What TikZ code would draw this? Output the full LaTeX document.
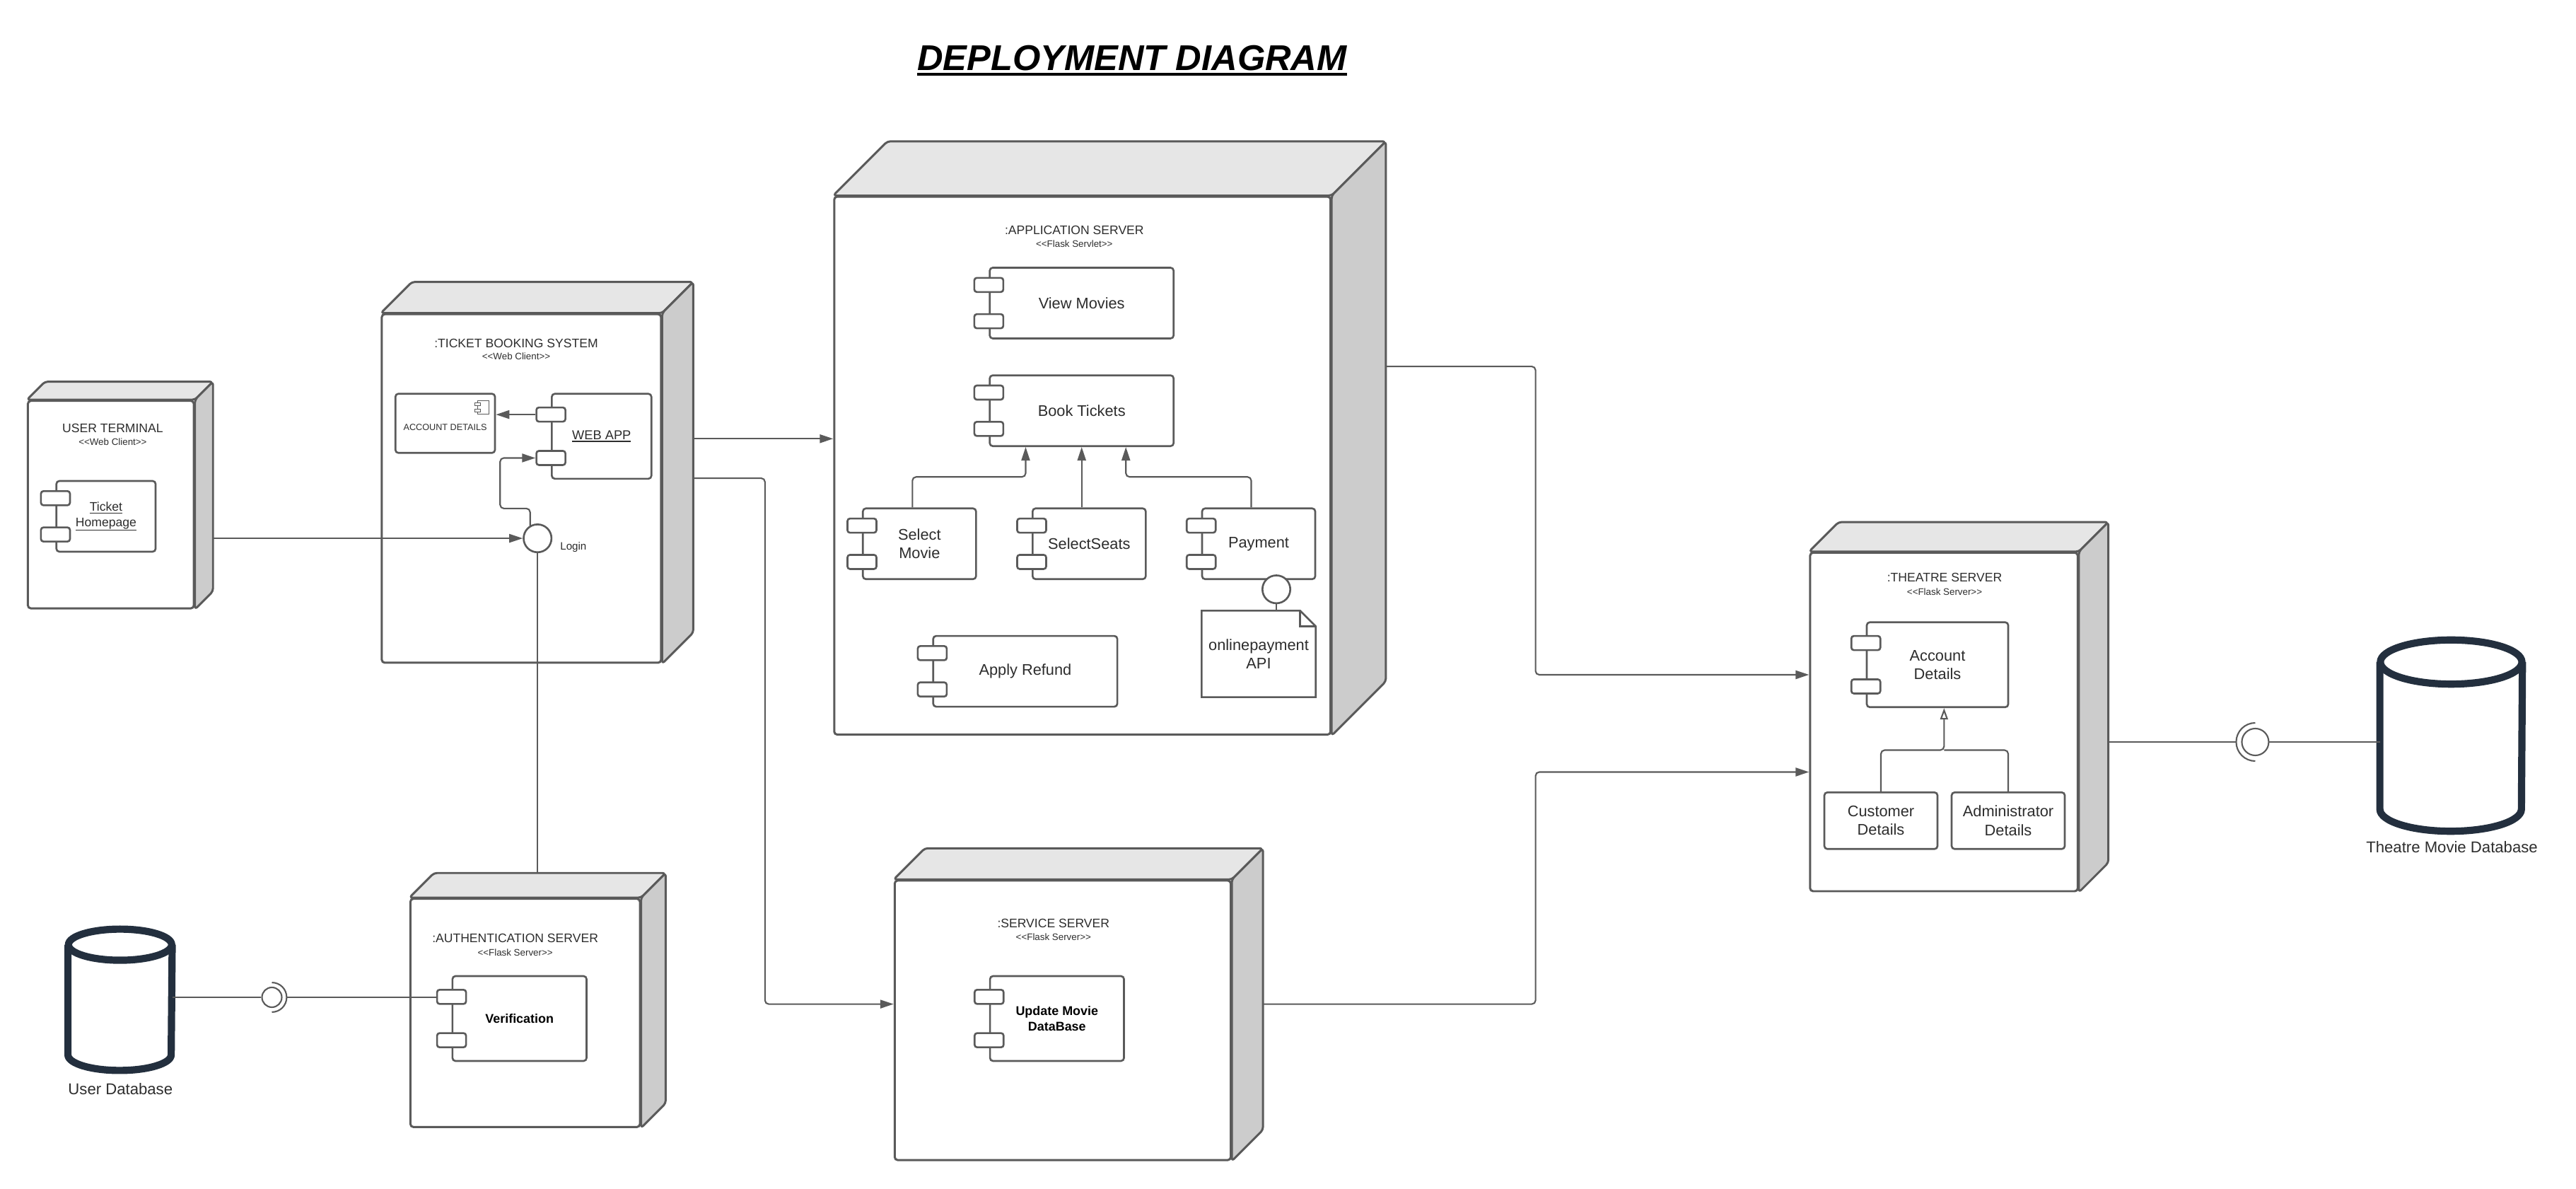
\documentclass[tikz,border=0pt]{standalone}
\usepackage{fontspec}
\setmainfont{Liberation Sans}
\usepackage{tikz}
\usetikzlibrary{arrows.meta,positioning,calc}

\definecolor{edge}{RGB}{90,90,90}
\definecolor{topgray}{RGB}{230,230,230}
\definecolor{sidegray}{RGB}{204,204,204}
\definecolor{txt}{RGB}{45,45,45}
\definecolor{dbblue}{RGB}{35,47,62}
\newcommand{\stype}[1]{<\kern0pt<#1>\kern0pt>}
\newsavebox{\ulbox}
% text, depth of rule below baseline, rule thickness
\newcommand{\ulined}[3]{\sbox{\ulbox}{#1}\rlap{\rule[-#2]{\wd\ulbox}{#3}}\usebox{\ulbox}}

\begin{document}
\begin{tikzpicture}[
  font=\fontsize{6.2}{7.5}\selectfont, text=txt,
  line/.style={draw=edge, line width=0.6pt},
  arr/.style={line, -{Triangle[length=0.19cm, width=0.12cm]}},
  gen/.style={line, -{Triangle[open, length=0.16cm, width=0.11cm, fill=white]}},
  front/.style={draw=edge, line width=0.85pt, fill=white, rounded corners=1.2pt, inner sep=0pt},
  topface/.style={draw=edge, line width=0.85pt, fill=topgray, rounded corners=1.2pt, line join=round},
  sideface/.style={draw=edge, line width=0.85pt, fill=sidegray, rounded corners=1.2pt, line join=round},
  devname/.style={font=\fontsize{5}{6}\selectfont, anchor=base},
  stereo/.style={font=\fontsize{3.8}{4.5}\selectfont, anchor=base},
  comp/.style={draw=edge, line width=0.75pt, fill=white, rounded corners=1.2pt,
               align=center, inner sep=1pt},
  bold/.style={font=\fontsize{5.1}{6.2}\selectfont\bfseries, text=black},
  port/.style={draw=edge, line width=0.75pt, fill=white, rounded corners=1pt,
               minimum width=0.41cm, minimum height=0.2cm, inner sep=0pt},
  notebox/.style={align=center, inner sep=1pt},
  compline/.style={draw=edge, line width=0.75pt},
  icon/.style={draw=edge, line width=0.3pt},
  iface/.style={circle, draw=edge, line width=0.75pt, fill=white, minimum size=0.394cm, inner sep=0pt},
  ball/.style={circle, draw=edge, line width=0.6pt, fill=white, inner sep=0pt},
  dbbox/.style={inner sep=0pt},
  dbline/.style={draw=dbblue, line width=2.9pt, line join=round},
  dblabel/.style={font=\fontsize{6.3}{7.5}\selectfont}
]
\useasboundingbox (0,0) rectangle (36.43,16.80);

\node[font=\fontsize{14.4}{17}\selectfont\bfseries\itshape, text=black, anchor=base] (title) at (16.01,15.80)
  {\ulined{DEPLOYMENT DIAGRAM}{2.1pt}{1.1pt}};

\node[front, minimum width=2.347cm, minimum height=2.934cm] (ut) at (1.568,9.666) {};
\node[front, minimum width=3.949cm, minimum height=4.928cm] (tbs) at (7.374,9.894) {};
\node[front, minimum width=7.019cm, minimum height=7.605cm] (app) at (15.307,10.217) {};
\node[front, minimum width=4.752cm, minimum height=3.952cm] (serv) at (15.029,2.375) {};
\node[front, minimum width=3.246cm, minimum height=3.227cm] (auth) at (7.427,2.480) {};
\node[front, minimum width=3.785cm, minimum height=4.786cm] (theatre) at (27.491,6.593) {};
\foreach \n/\d in {ut/0.256,tbs/0.441,app/0.767,serv/0.441,auth/0.349,theatre/0.418} {
  \filldraw[topface] (\n.north west) -- ++(\d,\d) -- ([shift={(\d,\d)}]\n.north east) -- (\n.north east) -- cycle;
  \filldraw[sideface] (\n.north east) -- ++(\d,\d) -- ([shift={(\d,\d)}]\n.south east) -- (\n.south east) -- cycle;
}

\node[devname] (utname) at (1.594,10.687) {USER TERMINAL};
\node[stereo] (utst) at ([yshift=-5.2pt]utname.base) {\stype{Web Client}};
\node[devname] (tbsname) at (7.300,11.888) {:TICKET BOOKING SYSTEM};
\node[stereo] (tbsst) at ([yshift=-5.0pt]tbsname.base) {\stype{Web Client}};
\node[devname] (appname) at (15.193,13.489) {:APPLICATION SERVER};
\node[stereo] (appst) at ([yshift=-5.1pt]appname.base) {\stype{Flask Servlet}};
\node[devname] (servname) at (14.898,3.680) {:SERVICE SERVER};
\node[stereo] (servst) at ([yshift=-5.0pt]servname.base) {\stype{Flask Server}};
\node[devname] (authname) at (7.286,3.478) {:AUTHENTICATION SERVER};
\node[stereo] (authst) at ([yshift=-5.4pt]authname.base) {\stype{Flask Server}};
\node[devname] (thname) at (27.500,8.573) {:THEATRE SERVER};
\node[stereo] (thst) at ([yshift=-5.4pt]thname.base) {\stype{Flask Server}};

\node[comp, minimum width=1.403cm, minimum height=1cm, font=\fontsize{5}{6.2}\selectfont] (home) at (1.499,9.5)
  {\ulined{Ticket}{0.9pt}{0.35pt}\\\ulined{Homepage}{1.6pt}{0.35pt}};
\node[comp, minimum width=1.408cm, minimum height=1.201cm, font=\fontsize{5.2}{6.2}\selectfont] (webapp) at (8.508,10.632)
  {\ulined{WEB APP}{0.9pt}{0.35pt}};
\node[comp, minimum width=1.408cm, minimum height=0.836cm, text height=6pt, font=\fontsize{3.6}{4.5}\selectfont] (acct) at (6.296,10.815)
  {ACCOUNT DETAILS};
\node[iface] (login) at (7.602,9.189) {};
\node[font=\fontsize{4.3}{5}\selectfont, anchor=base west, inner sep=0pt] (loginlbl) at (7.917,9.025) {Login};

\node[comp, minimum width=2.6cm, minimum height=1cm] (viewmov) at (15.297,12.515) {View Movies};
\node[comp, minimum width=2.6cm, minimum height=1cm] (booktix) at (15.297,10.993) {Book Tickets};
\node[comp, minimum width=1.6cm, minimum height=1cm] (selmov) at (13.003,9.112) {Select\\Movie};
\node[comp, minimum width=1.6cm, minimum height=1cm] (selseat) at (15.403,9.112) {SelectSeats};
\node[comp, minimum width=1.6cm, minimum height=1cm] (payment) at (17.800,9.112) {Payment};
\node[comp, minimum width=2.604cm, minimum height=1cm] (refund) at (14.499,7.309) {Apply Refund};
\node[notebox, minimum width=1.6cm, minimum height=1.208cm] (note) at (17.800,7.555) {onlinepayment\\API};
\node[iface] (payapi) at (18.050,8.468) {};

\node[comp, bold, minimum width=1.894cm, minimum height=1.2cm] (updmov) at (14.948,2.4) {Update Movie\\DataBase};
\node[comp, bold, minimum width=1.896cm, minimum height=1.2cm] (verif) at (7.347,2.4) {Verification};

\node[comp, minimum width=2cm, minimum height=1.2cm] (thacct) at (27.4,7.402) {Account\\Details};
\node[comp, minimum width=1.6cm, minimum height=0.8cm] (cust) at (26.6,5.197) {Customer\\Details};
\node[comp, minimum width=1.6cm, minimum height=0.8cm] (admin) at (28.4,5.197) {Administrator\\Details};

\foreach \c in {home,webapp,viewmov,booktix,selmov,selseat,payment,refund,updmov,verif,thacct} {
  \node[port] (\c-p1) at ($(\c.north west)!.25!(\c.south west)$) {};
  \node[port] (\c-p2) at ($(\c.north west)!.75!(\c.south west)$) {};
}

\draw[icon] ($(acct.north east)+(-0.262,-0.109)$) rectangle ($(acct.north east)+(-0.100,-0.304)$);
\foreach \ty in {-0.142,-0.235}
  \draw[icon, fill=white] ($(acct.north east)+(-0.299,\ty)$) rectangle ++(0.083,-0.035);

\draw[compline] (note.south west) -- (note.north west) -- ($(note.north east)+(-0.22,0)$)
  -- ($(note.north east)+(0,-0.22)$) -- (note.south east) -- cycle;
\draw[compline] ($(note.north east)+(-0.22,0)$) |- ($(note.north east)+(0,-0.22)$);

\node[dbbox, minimum width=1.46cm, minimum height=1.984cm] (udb) at (1.698,2.665) {};
\node[dbbox, minimum width=2.002cm, minimum height=2.69cm] (tdb) at (34.664,6.4) {};
\foreach \d/\rx/\ry in {udb/0.73/0.22,tdb/1.001/0.312} {
  \draw[dbline] ($(\d.north)+(0,-\ry)$) ellipse [x radius=\rx, y radius=\ry];
  \draw[dbline] ($(\d.north west)+(0,-\ry)$) -- ($(\d.south west)+(0,\ry)$)
    arc[start angle=180, end angle=360, x radius=\rx, y radius=\ry] -- ($(\d.north east)+(0,-\ry)$);
}
\node[dblabel] (udblbl) at (1.703,1.407) {User Database};
\node[dblabel] (tdblbl) at (34.675,4.821) {Theatre Movie Database};

\node[ball, minimum size=0.28cm] (uball) at (3.845,2.70) {};
\coordinate (usock) at ([xshift=0.209cm]uball.center);
\draw[line] (uball.center) ++(-90:0.209) arc[start angle=-90, end angle=90, radius=0.209];
\node[ball, minimum size=0.38cm] (tball) at (31.894,6.31) {};
\coordinate (tsock) at ([xshift=-0.27cm]tball.center);
\draw[line] (tball.center) ++(90:0.27) arc[start angle=90, end angle=270, radius=0.27];

\coordinate (utout) at ($(ut.east |- login)+(0.256,0)$);
\coordinate (tbsout1) at ($(tbs.east)+(0.441,0.703)$);
\coordinate (tbsout2) at ($(tbs.east)+(0.441,0.145)$);
\coordinate (appout) at ($(app.east)+(0.767,1.402)$);
\coordinate (servout) at ($(serv.east)+(0.441,0.229)$);
\coordinate (thout) at ($(theatre.east)+(0.418,-0.283)$);

\draw[arr] (utout) -- (login.west);
\draw[arr] (webapp-p1.west) -- (webapp-p1.west -| acct.east);
\draw[arr, rounded corners=1.5pt] (login.120) -- ++(0,0.24) -| ($(webapp-p2.west)+(-0.5,0)$) -- (webapp-p2.west);
\draw[line] (login.south) -- ($(login.south |- auth.north)+(0,0.349)$);
\draw[arr] (tbsout1) -- (tbsout1 -| app.west);
\draw[arr, rounded corners=1.5pt] (tbsout2) -- ++(1.014,0) |- ([yshift=0.229cm]serv.west);
\draw[arr, rounded corners=1.5pt] (appout) -- ++(2.117,0) |- ([yshift=0.667cm]theatre.west);
\draw[arr, rounded corners=1.5pt] (servout) -- ++(3.855,0) |- ([yshift=-0.708cm]theatre.west);

\draw[arr, rounded corners=1.5pt] ([xshift=-0.1cm]selmov.north) -- ++(0,0.432) -| ([xshift=-0.792cm]booktix.south);
\draw[arr] (selseat.north -| booktix.south) -- (booktix.south);
\draw[arr, rounded corners=1.5pt] ([xshift=-0.105cm]payment.north) -- ++(0,0.432) -| ([xshift=0.625cm]booktix.south);
\draw[line] (payapi.south) -- (payapi.south |- note.north);

\draw[line, rounded corners=1.5pt] (admin.north) |- ($(thacct.south)+(0.093,-0.594)$);
\draw[gen, rounded corners=1.5pt] (cust.north) |- ($(thacct.south)+(0.093,-0.594)$) -- ($(thacct.south)+(0.093,0)$);

\draw[line] (thout) -- (tsock);
\draw[line] (tball.east) -- (tball.east -| tdb.west);
\draw[line] (uball.west) -- (uball.west -| udb.east);
\draw[line] (usock) -- (usock -| verif-p1.west);
\end{tikzpicture}
\end{document}
